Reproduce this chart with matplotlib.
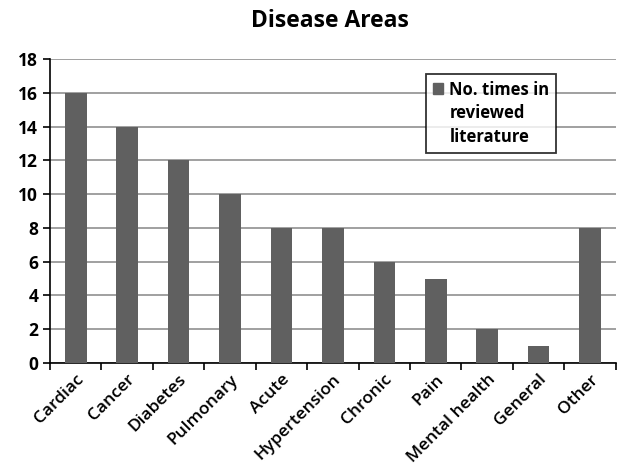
import numpy as np
import matplotlib.pyplot as plt
from matplotlib.patches import Rectangle

plt.rcParams['font.family'] = ['Open Sans', 'DejaVu Sans']

categorias = ['Cardiac', 'Cancer', 'Diabetes', 'Pulmonary', 'Acute', 'Hypertension',
              'Chronic', 'Pain', 'Mental health', 'General', 'Other']
valores = [16, 14, 12, 10, 8, 8, 6, 5, 2, 1, 8]
leyenda = ['No. times in', 'reviewed', 'literature']

fig = plt.figure(figsize=(6.29, 4.72), dpi=100)
ax = fig.add_axes([0.0795, 0.231, 0.8995, 0.644])

x = np.arange(len(categorias))
ax.bar(x, valores, width=0.42, color='#606060', zorder=3)

ax.set_xlim(-0.5, len(categorias) - 0.5)
ax.set_ylim(0, 18)
ax.set_yticks(range(0, 19, 2))
ax.yaxis.grid(True, color='#a0a0a0', linewidth=1.4, zorder=0)

# ticks en los límites de cada categoría
ax.set_xticks(np.arange(-0.5, len(categorias), 1.0))
ax.set_xticklabels([])
ax.set_xticks(x, minor=True)
ax.set_xticklabels(categorias, minor=True, rotation=45, ha='right',
                   rotation_mode='anchor', fontsize=12.5, fontweight='semibold')
ax.tick_params(axis='x', which='minor', length=0, pad=6)
ax.tick_params(axis='x', which='major', direction='out', length=5, width=1.2)
ax.tick_params(axis='y', direction='out', length=5, width=1.2, labelsize=12.5)
for lbl in ax.get_yticklabels():
    lbl.set_fontweight('bold')

ax.spines[['top', 'right']].set_visible(False)
ax.spines['left'].set_linewidth(1.2)
ax.spines['bottom'].set_linewidth(1.2)

# leyenda estilo Excel: cuadro sólo en la primera línea
handles = [Rectangle((0, 0), 1, 1, color='#606060'),
           Rectangle((0, 0), 1, 1, alpha=0),
           Rectangle((0, 0), 1, 1, alpha=0)]
leg = ax.legend(handles, leyenda, loc='upper left',
                bbox_to_anchor=(426 / 629, 1 - 74 / 472),
                bbox_transform=fig.transFigure, fontsize=12, frameon=True,
                fancybox=False, edgecolor='black', handlelength=0.6,
                handleheight=0.6, handletextpad=0.4, borderpad=0.4,
                labelspacing=0.35, borderaxespad=0)
leg.get_frame().set_linewidth(1.3)
for t in leg.get_texts():
    t.set_fontweight('bold')
leg.set_zorder(5)

fig.suptitle('Disease Areas', fontsize=16.5, fontweight='bold', x=0.525, y=0.98)

plt.savefig('out.png', dpi=100)
